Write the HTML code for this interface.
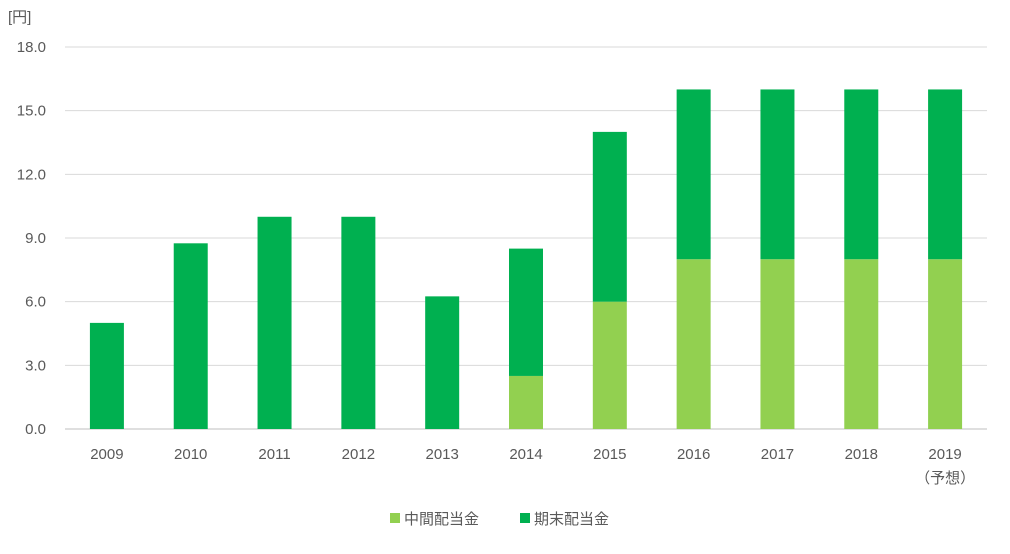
<!DOCTYPE html>
<html><head><meta charset="utf-8"><style>
body{margin:0;background:#fff;}
svg text{font-family:"Liberation Sans","Noto Sans CJK JP",sans-serif;fill:#595959;font-size:15px;}
</style></head><body>
<svg id="chart" width="1010" height="549" xmlns="http://www.w3.org/2000/svg">
<text x="8" y="22">[円]</text>
<g id="grid"></g><g id="bars"></g><g id="labels"></g>
<g>
<rect x="390" y="513" width="10" height="10" fill="#92d050"/>
<text x="404" y="524">中間配当金</text>
<rect x="520" y="513" width="10" height="10" fill="#00b050"/>
<text x="534" y="524">期末配当金</text>
</g>
</svg>
<script>
const categories=["2009","2010","2011","2012","2013","2014","2015","2016","2017","2018","2019"];
const interim=[0,0,0,0,0,2.5,6,8,8,8,8];
const finalDiv=[5,8.75,10,10,6.25,6,8,8,8,8,8];
const yTicks=[0,3,6,9,12,15,18];
const ns="http://www.w3.org/2000/svg";
const x0=65,x1=987,yTop=47,yBot=429,yMax=18;
const y=v=>yBot-(v/yMax)*(yBot-yTop);
const step=(x1-x0)/categories.length;
const xc=i=>x0+step*(i+0.5);
const bw=34;
function mk(tag,attrs,parent){const e=document.createElementNS(ns,tag);for(const k in attrs)e.setAttribute(k,attrs[k]);document.getElementById(parent).appendChild(e);return e;}
yTicks.forEach(t=>{
  const l=mk("line",{x1:x0,x2:x1,y1:y(t),y2:y(t),stroke:t===0?"#bfbfbf":"#d9d9d9","stroke-width":1},"grid");
  
  
  const tx=mk("text",{x:46,y:y(t)+5,"text-anchor":"end"},"labels");
  tx.textContent=t.toFixed(1);
  
  
});
categories.forEach((c,i)=>{
  if(interim[i]>0){
    const r=mk("rect",{x:xc(i)-bw/2,y:y(interim[i]),width:bw,height:y(0)-y(interim[i]),fill:"#92d050"},"bars");
    
    
  }
  const tot=interim[i]+finalDiv[i];
  const r2=mk("rect",{x:xc(i)-bw/2,y:y(tot),width:bw,height:y(interim[i])-y(tot),fill:"#00b050"},"bars");
  
  
  const tx=mk("text",{x:xc(i),y:459,"text-anchor":"middle"},"labels");
  tx.textContent=c;
  
  
});
const f=mk("text",{x:xc(10),y:483,"text-anchor":"middle"},"labels");
f.textContent="（予想）";


</script>
</body></html>
